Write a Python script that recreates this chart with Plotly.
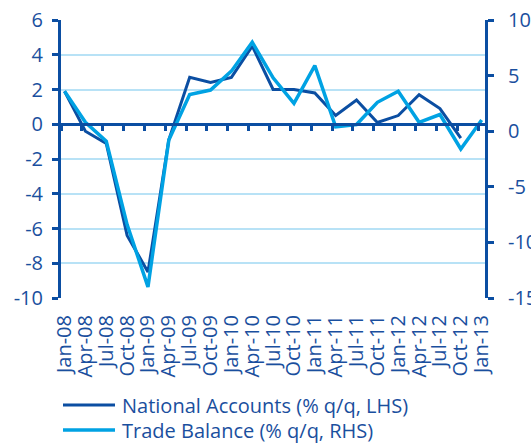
import plotly.graph_objects as go

quarters = ["Jan-08", "Apr-08", "Jul-08", "Oct-08", "Jan-09", "Apr-09", "Jul-09",
            "Oct-09", "Jan-10", "Apr-10", "Jul-10", "Oct-10", "Jan-11", "Apr-11",
            "Jul-11", "Oct-11", "Jan-12", "Apr-12", "Jul-12", "Oct-12", "Jan-13"]
national_accounts = [1.9, -0.4, -1.1, -6.4, -8.5, -0.9, 2.7, 2.4, 2.7, 4.5, 2.0,
                     2.0, 1.8, 0.5, 1.4, 0.1, 0.5, 1.7, 0.9, -0.8, None]
trade_balance = [3.6, 0.8, -0.9, -8.4, -14.0, -0.8, 3.3, 3.7, 5.4, 8.0, 4.8,
                 2.5, 5.9, 0.4, 0.6, 2.6, 3.6, 0.8, 1.5, -1.6, 1.0]
left_ticks = [-10, -8, -6, -4, -2, 0, 2, 4, 6]
left_labels = ["-10", "-8", "-6", "-4", "-2", "0", "2", "4", "6"]
right_ticks = [-15, -10, -5, 0, 5, 10]
right_labels = ["-15", "-10", "-5", "0", "5", "10"]
name_na = "National Accounts (% q/q, LHS)"
name_tb = "Trade Balance (% q/q, RHS)"

DARK = "#0b4ea2"
LIGHT = "#00a2e3"
GRID = "#b8e2f6"
TEXT = "#1a4f9e"
FONT = "Open Sans"

W, H = 531, 445
ML, MR, MT, MB = 61, 46, 20, 147
x_idx = list(range(len(quarters)))

fig = go.Figure()
fig.add_trace(go.Scatter(x=x_idx, y=national_accounts, mode="lines", name=name_na,
                         line=dict(color=DARK, width=3), yaxis="y", xaxis="x",
                         showlegend=False))
fig.add_trace(go.Scatter(x=x_idx, y=trade_balance, mode="lines", name=name_tb,
                         line=dict(color=LIGHT, width=3.5), yaxis="y2", xaxis="x",
                         showlegend=False))
# empty trace so xaxis2 (the zero line with ticks) renders
fig.add_trace(go.Scatter(x=[], y=[], xaxis="x2", yaxis="y", showlegend=False,
                         hoverinfo="skip"))

xr = [-0.17, 20.16]
fig.update_layout(
    width=W, height=H, autosize=False,
    margin=dict(l=ML, r=MR, t=MT, b=MB),
    paper_bgcolor="white", plot_bgcolor="white",
    font=dict(family=FONT, size=17, color=TEXT),
    xaxis=dict(range=xr, tickvals=x_idx, ticktext=quarters, tickangle=-90,
               showgrid=False, zeroline=False, showline=False, ticks="",
               automargin=False, ticklabelstandoff=12,
               tickfont=dict(size=20, color=TEXT)),
    xaxis2=dict(range=[xr[0] + 0.17, xr[1] + 0.17], overlaying="x", anchor="free",
                position=10 / 16, tickvals=x_idx, showticklabels=False,
                ticks="outside", ticklen=5, tickwidth=3, tickcolor=DARK,
                showline=True, linewidth=3, linecolor=DARK, automargin=False,
                showgrid=False, zeroline=False),
    yaxis=dict(range=[-10, 6], tickvals=left_ticks, ticktext=left_labels,
               showgrid=True, gridcolor=GRID,
               gridwidth=1.5, zeroline=False, showline=True, linewidth=3,
               linecolor=DARK, ticks="outside", ticklen=6, tickwidth=3,
               tickcolor=DARK, ticklabelstandoff=5, automargin=False,
               tickfont=dict(size=20, color=TEXT)),
    yaxis2=dict(range=[-15, 10], tickvals=right_ticks, ticktext=right_labels,
                overlaying="y", side="right",
                showgrid=False, zeroline=False, showline=True, linewidth=3,
                linecolor=DARK, ticks="outside", ticklen=6, tickwidth=3,
                tickcolor=DARK, ticklabelstandoff=10, automargin=False,
                tickfont=dict(size=20, color=TEXT)),
)

# manual legend (paper coordinates)
pw = W - ML - MR
ph = H - MT - MB
def px_to_paper_x(px):
    return (px - ML) / pw
def px_to_paper_y(py):
    return (H - MB - py) / ph

for name, color, width, yc in [(name_na, DARK, 3, 405), (name_tb, LIGHT, 3.5, 430)]:
    fig.add_shape(type="line", xref="paper", yref="paper",
                  x0=px_to_paper_x(63), x1=px_to_paper_x(115),
                  y0=px_to_paper_y(yc), y1=px_to_paper_y(yc),
                  line=dict(color=color, width=width))
    fig.add_annotation(xref="paper", yref="paper", x=px_to_paper_x(120),
                       y=px_to_paper_y(yc), text=name, showarrow=False,
                       xanchor="left", yanchor="middle",
                       font=dict(family=FONT, size=20, color=TEXT))

fig.write_html("out.html", config={"displayModeBar": False},
               post_script="document.body.style.margin='0';document.body.style.padding='0';document.body.style.overflow='hidden';")
